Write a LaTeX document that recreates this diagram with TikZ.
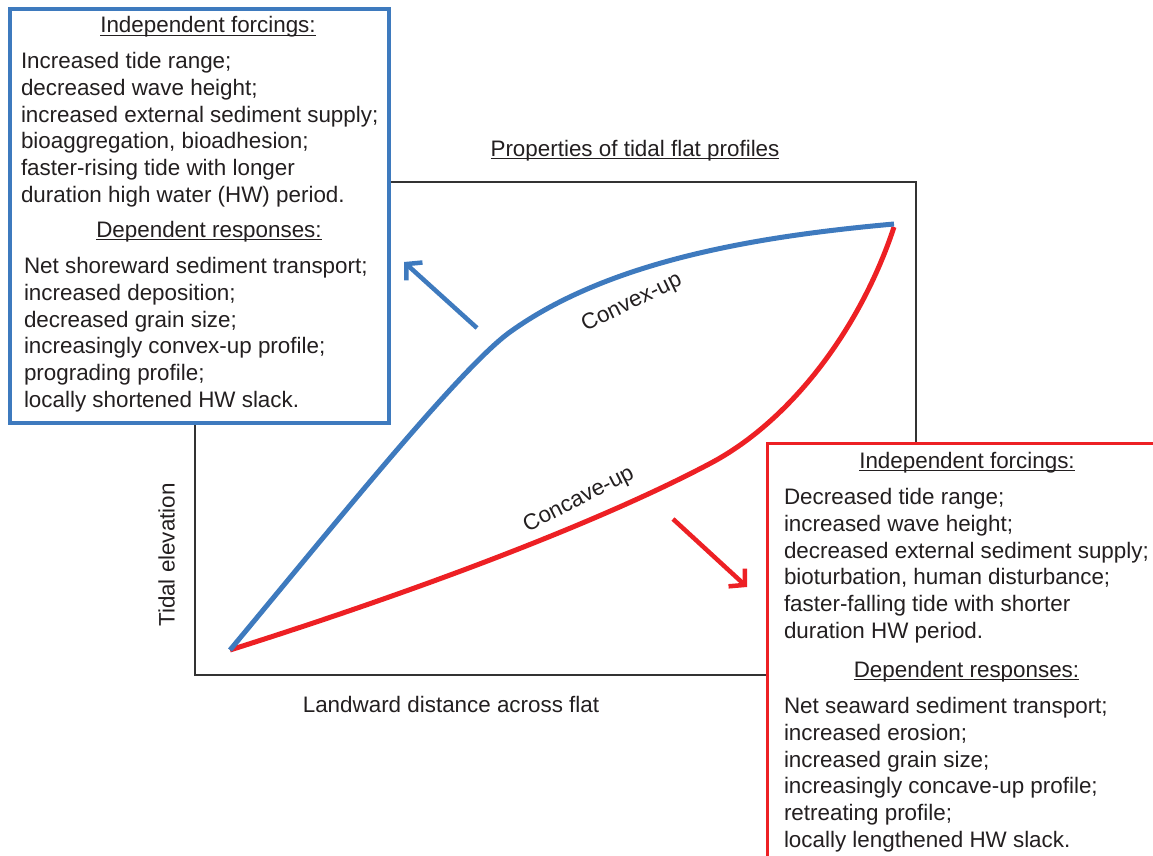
\documentclass[tikz,border=0pt]{standalone}
\usepackage{fontspec}
\setmainfont{Liberation Sans}
\usetikzlibrary{arrows.meta, positioning}

\definecolor{convexblue}{RGB}{62,122,190}
\definecolor{concavered}{RGB}{237,32,36}
\definecolor{inkgray}{RGB}{35,31,32}

\newcommand{\headline}[1]{\setbox0\hbox{#1}\rlap{\rule[-2.7pt]{\wd0}{1.1pt}}\box0}

\begin{document}
\begin{tikzpicture}[
    x=1pt, y=-1pt,
    every node/.style={font=\fontsize{22.4}{26.9}\selectfont, text=inkgray, inner sep=0pt, outer sep=0pt},
    plotframe/.style={rectangle, draw=black!80, line width=2pt, minimum width=721pt, minimum height=493pt},
    infobox/.style={rectangle, fill=white},
    profile/.style={line width=5pt, line join=round},
    arrow/.style={-{Straight Barb[length=11pt, width=24pt]}, line width=4.5pt},
    list/.style={align=left, anchor=north west},
    axistext/.style={anchor=base}
]
\useasboundingbox (0,0) rectangle (1153,856);

\node[plotframe] (frame) at (555.5,428.5) {};

% profiles
\coordinate (shore) at (230,650);
\coordinate (landTop) at (894,224);
\coordinate (redTop) at (894,227);
\coordinate (redBend) at (711,463);
\coordinate (blueBend) at (510,332);
\draw[profile, concavered] (shore) .. controls (420,590) and (600,522) .. (redBend)
    .. controls (790,421) and (860,330) .. (redTop);
\draw[profile, convexblue] (shore) .. controls (330,530) and (460,368) .. (blueBend)
    .. controls (610,260) and (760,236) .. (landTop);

\node[rotate=26] (convexLabel) at (632,303) {Convex-up};
\node[rotate=27] (concaveLabel) at (579,500) {Concave-up};

\coordinate (blueTail) at (477,328);
\coordinate (blueTip) at (404,262);
\coordinate (redTail) at (673,519);
\coordinate (redTip) at (747,587);
\draw[arrow, convexblue] (blueTail) -- (blueTip);
\draw[arrow, concavered] (redTail) -- (redTip);

% axis texts
\node[axistext] (title) at (635,156) {\headline{Properties of tidal flat profiles}};
\node[axistext] (xlabel) at (451,712) {Landward distance across flat};
\node[rotate=90] (ylabel) at (166.5,555) {Tidal elevation};

% convex-up box
\node[infobox, draw=convexblue, line width=4pt, minimum width=379pt, minimum height=414pt] (blueBox) at (199.5,216) {};
\node[axistext] (blueHeadA) at (208,33) {\headline{Independent forcings:}};
\node[list] (blueListA) at (21,52) {Increased tide range;\\
decreased wave height;\\
increased external sediment supply;\\
bioaggregation, bioadhesion;\\
faster-rising tide with longer\\
duration high water (HW) period.};
\node[axistext] (blueHeadB) at (209,237) {\headline{Dependent responses:}};
\node[list] (blueListB) at (24,257) {Net shoreward sediment transport;\\
increased deposition;\\
decreased grain size;\\
increasingly convex-up profile;\\
prograding profile;\\
locally shortened HW slack.};

% concave-up box
\node[infobox, draw=concavered, line width=3pt, minimum width=402.5pt, minimum height=437pt] (redBox) at (968.75,661.5) {};
\node[axistext] (redHeadA) at (967,468) {\headline{Independent forcings:}};
\node[list] (redListA) at (784,488) {Decreased tide range;\\
increased wave height;\\
decreased external sediment supply;\\
bioturbation, human disturbance;\\
faster-falling tide with shorter\\
duration HW period.};
\node[axistext] (redHeadB) at (966.5,677) {\headline{Dependent responses:}};
\node[list] (redListB) at (784,697) {Net seaward sediment transport;\\
increased erosion;\\
increased grain size;\\
increasingly concave-up profile;\\
retreating profile;\\
locally lengthened HW slack.};

\end{tikzpicture}
\end{document}
